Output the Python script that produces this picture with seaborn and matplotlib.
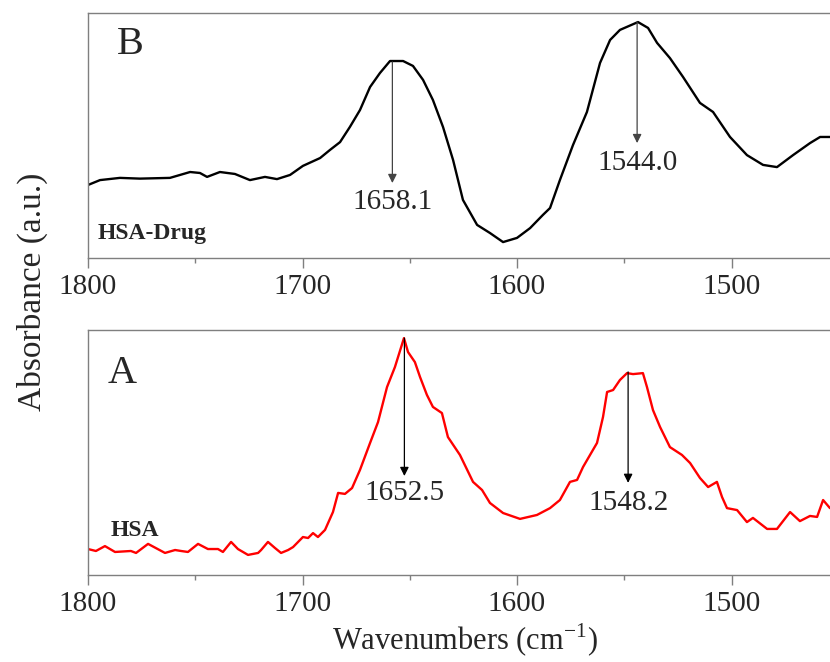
import numpy as np
import pandas as pd
import matplotlib
matplotlib.use("Agg")
import matplotlib.pyplot as plt
from matplotlib.ticker import MultipleLocator
import seaborn as sns

# Espectro B (HSA-Drug)
wn_b = [1800.0, 1794.4, 1785.1, 1775.8, 1761.8, 1752.4, 1747.8, 1744.5, 1738.5, 1731.5,
        1724.5, 1717.5, 1711.9, 1705.8, 1699.8, 1691.8, 1687.2, 1682.5, 1677.9, 1673.2,
        1668.5, 1663.9, 1659.2, 1653.1, 1648.5, 1643.8, 1639.2, 1634.5, 1629.8, 1625.2,
        1618.6, 1612.6, 1606.5, 1600.0, 1593.9, 1587.9, 1584.6, 1580.0, 1573.9, 1567.4,
        1561.3, 1556.6, 1552.0, 1543.6, 1538.9, 1534.7, 1528.7, 1522.6, 1514.7, 1508.6,
        1500.7, 1492.8, 1485.3, 1478.8, 1471.3, 1463.4, 1458.7, 1454.1]
abs_b = [0.298, 0.318, 0.327, 0.324, 0.327, 0.351, 0.347, 0.331, 0.351, 0.343,
         0.318, 0.331, 0.322, 0.339, 0.376, 0.408, 0.441, 0.473, 0.535, 0.604,
         0.698, 0.755, 0.804, 0.804, 0.784, 0.727, 0.645, 0.535, 0.400, 0.237,
         0.135, 0.102, 0.065, 0.082, 0.122, 0.176, 0.204, 0.318, 0.461, 0.596,
         0.796, 0.890, 0.931, 0.963, 0.939, 0.878, 0.816, 0.739, 0.633, 0.596,
         0.494, 0.420, 0.380, 0.371, 0.420, 0.469, 0.494, 0.494]

# Espectro A (HSA)
wn_a = [1800.0, 1796.3, 1792.1, 1787.4, 1780.0, 1777.6, 1772.0, 1764.1, 1759.4, 1756.6,
        1753.4, 1748.7, 1744.1, 1739.4, 1737.1, 1733.3, 1730.1, 1725.4, 1720.7, 1719.3,
        1716.1, 1712.8, 1710.0, 1706.7, 1704.4, 1699.8, 1697.4, 1695.1, 1692.8, 1689.5,
        1685.8, 1683.4, 1680.2, 1676.9, 1673.2, 1668.5, 1664.8, 1660.6, 1656.9, 1652.7,
        1650.8, 1647.6, 1645.2, 1642.0, 1639.2, 1635.0, 1632.2, 1626.6, 1620.5, 1616.3,
        1612.6, 1606.5, 1598.6, 1590.7, 1584.6, 1580.0, 1575.3, 1572.0, 1569.2, 1562.7,
        1559.9, 1558.0, 1555.2, 1552.0, 1548.7, 1545.9, 1541.3, 1539.4, 1536.6, 1533.3,
        1528.7, 1523.1, 1519.3, 1514.7, 1510.9, 1506.8, 1504.4, 1502.1, 1497.4, 1492.8,
        1490.0, 1483.4, 1478.8, 1472.7, 1468.1, 1463.4, 1460.1, 1457.3, 1454.1]
abs_a = [0.106, 0.098, 0.118, 0.094, 0.098, 0.090, 0.127, 0.090, 0.102, 0.098,
         0.094, 0.127, 0.106, 0.106, 0.094, 0.135, 0.106, 0.082, 0.090, 0.102,
         0.135, 0.110, 0.090, 0.102, 0.114, 0.155, 0.151, 0.171, 0.155, 0.184,
         0.257, 0.335, 0.331, 0.355, 0.429, 0.539, 0.624, 0.767, 0.849, 0.967,
         0.910, 0.869, 0.808, 0.735, 0.686, 0.661, 0.563, 0.490, 0.380, 0.347,
         0.294, 0.253, 0.229, 0.245, 0.273, 0.306, 0.380, 0.388, 0.441, 0.539,
         0.645, 0.747, 0.755, 0.796, 0.824, 0.820, 0.824, 0.767, 0.673, 0.604,
         0.522, 0.490, 0.457, 0.396, 0.359, 0.380, 0.318, 0.273, 0.265, 0.216,
         0.233, 0.188, 0.188, 0.257, 0.220, 0.241, 0.237, 0.306, 0.273]

# Picos marcados: posición, etiqueta, inicio y fin de flecha, altura del texto
peaks_b = [1658.1, 1544.0]
labels_b = ["1658.1", "1544.0"]
arrow_top_b = [0.80, 0.963]
arrow_end_b = [0.306, 0.469]
text_y_b = [0.230, 0.388]

peaks_a = [1652.5, 1548.2]
labels_a = ["1652.5", "1548.2"]
arrow_top_a = [0.967, 0.829]
arrow_end_a = [0.404, 0.376]
text_y_a = [0.335, 0.294]

df_b = pd.DataFrame({"wn": wn_b, "abs": abs_b})
df_a = pd.DataFrame({"wn": wn_a, "abs": abs_a})

sns.set_style("ticks")
plt.rcParams["font.family"] = ["Liberation Serif", "DejaVu Serif"]
plt.rcParams["mathtext.fontset"] = "custom"
plt.rcParams["mathtext.rm"] = "Liberation Serif"

fig = plt.figure(figsize=(8.3, 6.62), dpi=100)
W, H = 830, 662
ax_b = fig.add_axes([88 / W, 1 - 258 / H, 1 - 88 / W, 245 / H])
ax_a = fig.add_axes([88 / W, 1 - 575 / H, 1 - 88 / W, 245 / H])

spine_col = "#7f7f7f"
x_right = 1800 - (W - 88) / 2.145

def style_axis(ax):
    ax.set_xlim(1800, x_right)
    ax.set_ylim(0, 1)
    ax.set_yticks([])
    ax.set_xlabel("")
    ax.set_ylabel("")
    ax.xaxis.set_major_locator(MultipleLocator(100))
    ax.xaxis.set_minor_locator(MultipleLocator(50))
    ax.tick_params(axis="x", which="major", direction="out", length=7.2, width=1,
                   color=spine_col, labelsize=21, pad=4)
    ax.tick_params(axis="x", which="minor", direction="out", length=3.6, width=1,
                   color=spine_col)
    for side in ["left", "top", "bottom"]:
        ax.spines[side].set_color(spine_col)
        ax.spines[side].set_linewidth(1.0)
    ax.spines["right"].set_visible(False)

sns.lineplot(data=df_b, x="wn", y="abs", ax=ax_b, color="black", lw=1.7)
sns.lineplot(data=df_a, x="wn", y="abs", ax=ax_a, color="#ff0000", lw=1.7)
style_axis(ax_b)
style_axis(ax_a)

for ax, pk, lab, y0, y1, ty, col in [
    (ax_b, peaks_b, labels_b, arrow_top_b, arrow_end_b, text_y_b, "#444444"),
    (ax_a, peaks_a, labels_a, arrow_top_a, arrow_end_a, text_y_a, "black"),
]:
    for i in range(len(pk)):
        ax.annotate("", xy=(pk[i], y1[i]), xytext=(pk[i], y0[i]),
                    arrowprops=dict(arrowstyle="-|>", color=col, lw=0.9,
                                    mutation_scale=13, shrinkA=0, shrinkB=0))
        ax.text(pk[i], ty[i], lab[i], ha="center", va="center", fontsize=21)

ax_b.text(0.057, 0.87, "B", transform=ax_b.transAxes, ha="center", va="center", fontsize=29)
ax_a.text(0.046, 0.824, "A", transform=ax_a.transAxes, ha="center", va="center", fontsize=29)
ax_b.text(0.013, 0.10, "HSA-Drug", transform=ax_b.transAxes, ha="left", va="center",
          fontsize=17, fontweight="bold")
ax_a.text(0.03, 0.18, "HSA", transform=ax_a.transAxes, ha="left", va="center",
          fontsize=17, fontweight="bold")

fig.text(465 / W, 1 - 640 / H, r"Wavenumbers (cm$^{-1}$)", ha="center", va="center", fontsize=22)
fig.text(32 / W, 1 - 292 / H, "Absorbance (a.u.)", ha="center", va="center",
         rotation=90, fontsize=24)

fig.savefig("out.png", dpi=100)
